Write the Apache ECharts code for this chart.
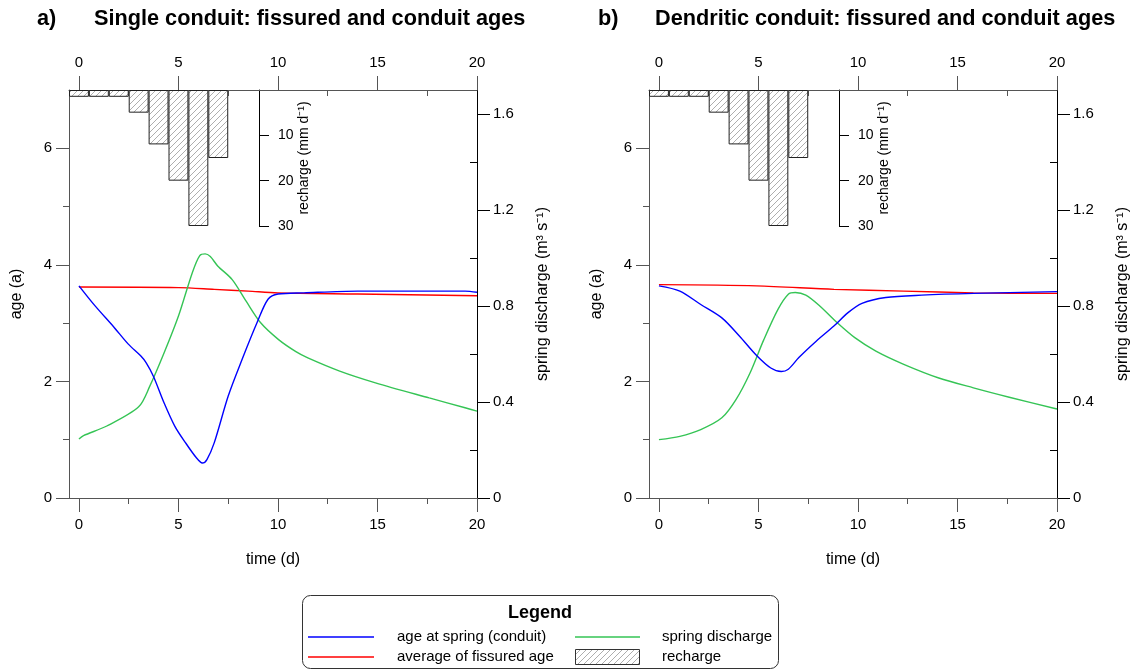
<!DOCTYPE html>
<html>
<head>
<meta charset="utf-8">
<script src="https://cdn.jsdelivr.net/npm/echarts@6/dist/echarts.min.js"></script>
<style>
html, body { margin: 0; padding: 0; background: #fff; }
#main { width: 1137px; height: 670px; }
</style>
</head>
<body>
<div id="main"></div>
<script>
// recharge (mm/d), one bar per day
var rechargeDays = [0, 1, 2, 3, 4, 5, 6, 7];
var recharge = [1.5, 1.5, 1.5, 5, 12, 20, 30, 15];

// a) single conduit
var ageSpringA = [[0,3.64],[0.8,3.3],[1.76,2.93],[2.48,2.64],[3.1,2.44],[3.38,2.32],[3.74,2.09],[4.28,1.63],[4.82,1.23],[5.35,0.95],[5.9,0.69],[6.2,0.6],[6.43,0.66],[6.8,0.95],[7.5,1.75],[8.2,2.38],[8.95,3.01],[9.5,3.41],[10,3.5],[11.3,3.52],[14,3.55],[19.4,3.55],[20,3.53]];
var fissAgeA = [[0,3.62],[5,3.61],[6.8,3.58],[8.5,3.55],[10,3.52],[14,3.5],[20,3.47]];
var dischargeA = [[0,0.246],[0.23,0.26],[1.4,0.3],[3.0,0.38],[3.56,0.466],[4.28,0.605],[5,0.758],[5.7,0.94],[6.07,1.01],[6.34,1.017],[6.6,1.006],[6.97,0.967],[7.7,0.91],[8.4,0.82],[9.13,0.73],[10.03,0.66],[10.9,0.61],[11.5,0.584],[13.1,0.529],[14.9,0.48],[17.6,0.417],[19.4,0.376],[20,0.362]];

// b) dendritic conduit
var ageSpringB = [[0,3.64],[1.05,3.55],[2.1,3.32],[3.16,3.09],[4.04,2.78],[4.92,2.44],[5.62,2.23],[6.15,2.17],[6.5,2.21],[7.03,2.41],[7.9,2.69],[8.79,2.95],[9.5,3.18],[10.2,3.34],[11.4,3.44],[13.2,3.48],[15.8,3.51],[20,3.54]];
var fissAgeB = [[0,3.66],[4.9,3.64],[8.8,3.58],[12.3,3.55],[15.8,3.52],[20,3.51]];
var dischargeB = [[0,0.243],[1.05,0.257],[2.1,0.285],[3.16,0.334],[3.87,0.41],[4.57,0.52],[5.27,0.66],[5.98,0.786],[6.5,0.849],[6.85,0.856],[7.38,0.845],[8.08,0.8],[8.96,0.73],[9.84,0.668],[10.9,0.612],[12.3,0.557],[14.06,0.5],[15.8,0.459],[17.6,0.42],[20,0.371]];

// tick labels
var timeMajor = [0, 5, 10, 15, 20];
var timeMinor = [2.5, 7.5, 12.5, 17.5];
var ageMajor = [0, 2, 4, 6];
var ageMinor = [1, 3, 5];
var qMajor = [0, 0.4, 0.8, 1.2, 1.6];
var qMinor = [0.2, 0.6, 1.0, 1.4];
var rechargeTicks = [10, 20, 30];

var FONT = '"Liberation Sans", Arial, sans-serif';
var BLUE = '#0000ff', RED = '#ff0000', GREEN = '#35c455';

function hatchCanvas() {
    var c = document.createElement('canvas');
    c.width = 6; c.height = 6;
    var g = c.getContext('2d');
    g.fillStyle = '#fff';
    g.fillRect(0, 0, 6, 6);
    g.strokeStyle = '#999';
    g.lineWidth = 0.8;
    g.beginPath();
    g.moveTo(0, 6); g.lineTo(6, 0);
    g.moveTo(-1, 1); g.lineTo(1, -1);
    g.moveTo(5, 7); g.lineTo(7, 5);
    g.stroke();
    return c;
}
var hatch = hatchCanvas();

var grids = [], xAxes = [], yAxes = [], series = [], graphics = [];
var gridW = 408, gridH = 408, gridTop = 90;
var dayPx = gridW / 20.5;
var lbl = { color: '#000', fontSize: 15, fontFamily: FONT };
var nameStyle = { color: '#000', fontSize: 16, fontFamily: FONT };

function addPanel(dx, ageSpring, fissAge, discharge) {
    var g = grids.length;
    grids.push({ left: 69 + dx, top: gridTop, width: gridW, height: gridH });
    grids.push({ left: 249 + dx, top: gridTop, width: 10, height: 136 });
    var xb = xAxes.length, yb = yAxes.length;
    var grey = { onZero: false, lineStyle: { color: '#555', width: 1 } };
    var xBase = { type: 'value', gridIndex: g, min: -0.5, max: 20, splitLine: { show: false } };
    xAxes.push(Object.assign({}, xBase, {
        position: 'bottom', axisLine: grey,
        axisTick: { length: 14, customValues: timeMajor, lineStyle: { color: '#555' } },
        axisLabel: Object.assign({ customValues: timeMajor, margin: 19 }, lbl),
        name: 'time (d)', nameLocation: 'middle', nameGap: 54, nameTextStyle: nameStyle
    }));
    xAxes.push(Object.assign({}, xBase, {
        position: 'bottom', axisLine: { show: false, onZero: false },
        axisTick: { length: 6, customValues: timeMinor, lineStyle: { color: '#555' } },
        axisLabel: { show: false }
    }));
    xAxes.push(Object.assign({}, xBase, {
        position: 'top', axisLine: grey,
        axisTick: { length: 14, customValues: timeMajor, lineStyle: { color: '#555' } },
        axisLabel: Object.assign({ customValues: timeMajor, margin: 20 }, lbl)
    }));
    xAxes.push(Object.assign({}, xBase, {
        position: 'top', axisLine: { show: false, onZero: false },
        axisTick: { inside: true, length: 6, customValues: timeMinor, lineStyle: { color: '#555' } },
        axisLabel: { show: false }
    }));
    xAxes.push({ type: 'value', gridIndex: g + 1, min: 0, max: 1, show: false });

    var yBase = { type: 'value', gridIndex: g, splitLine: { show: false } };
    yAxes.push(Object.assign({}, yBase, {
        position: 'left', min: 0, max: 7, axisLine: { show: true, onZero: false, lineStyle: { color: '#555' } },
        axisTick: { length: 13, customValues: ageMajor, lineStyle: { color: '#555' } },
        axisLabel: Object.assign({ customValues: ageMajor, margin: 17 }, lbl),
        name: 'age (a)', nameLocation: 'middle', nameGap: 44, nameRotate: 90, nameTextStyle: nameStyle
    }));
    yAxes.push(Object.assign({}, yBase, {
        position: 'left', min: 0, max: 7, axisLine: { show: false, onZero: false },
        axisTick: { length: 6, customValues: ageMinor, lineStyle: { color: '#555' } },
        axisLabel: { show: false }
    }));
    yAxes.push(Object.assign({}, yBase, {
        position: 'right', min: 0, max: 1.7, axisLine: { show: true, onZero: false, lineStyle: { color: '#000' } },
        axisTick: { length: 13, customValues: qMajor, lineStyle: { color: '#000' } },
        axisLabel: Object.assign({ customValues: qMajor, margin: 16 }, lbl),
        name: 'spring discharge (m³ s⁻¹)', nameLocation: 'middle', nameGap: 58, nameRotate: 90, nameTextStyle: nameStyle
    }));
    yAxes.push(Object.assign({}, yBase, {
        position: 'right', min: 0, max: 1.7, axisLine: { show: false, onZero: false },
        axisTick: { inside: true, length: 7, customValues: qMinor, lineStyle: { color: '#000' } },
        axisLabel: { show: false }
    }));
    yAxes.push(Object.assign({}, yBase, { show: false, min: 0, max: 90, inverse: true }));
    yAxes.push({
        type: 'value', gridIndex: g + 1, position: 'right', min: 0, max: 30, inverse: true,
        splitLine: { show: false },
        axisLine: { show: true, onZero: false, lineStyle: { color: '#000' } },
        axisTick: { length: 10, customValues: rechargeTicks, lineStyle: { color: '#000' } },
        axisLabel: { customValues: rechargeTicks, margin: 19, color: '#000', fontSize: 14, fontFamily: FONT },
        name: 'recharge (mm d⁻¹)', nameLocation: 'middle', nameGap: 38, nameRotate: 90,
        nameTextStyle: { color: '#000', fontSize: 14, fontFamily: FONT }
    });

    series.push({
        name: 'recharge', type: 'bar', xAxisIndex: xb, yAxisIndex: yb + 4,
        barWidth: dayPx, z: 1,
        itemStyle: { color: { image: hatch, repeat: 'repeat' }, borderColor: '#222', borderWidth: 1 },
        data: rechargeDays.map(function (d, i) { return [d, recharge[i]]; })
    });
    var line = function (name, data, yi, color, z) {
        return {
            name: name, type: 'line', xAxisIndex: xb, yAxisIndex: yb + yi, data: data,
            showSymbol: false, symbol: 'none', smooth: 0.3, z: z,
            lineStyle: { color: color, width: 1.4 }
        };
    };
    series.push(line('average of fissured age', fissAge, 0, RED, 3));
    series.push(line('spring discharge', discharge, 2, GREEN, 3));
    series.push(line('age at spring (conduit)', ageSpring, 0, BLUE, 4));
}

addPanel(0, ageSpringA, fissAgeA, dischargeA);
addPanel(580, ageSpringB, fissAgeB, dischargeB);

var titleFont = 'bold 21.7px ' + FONT;
function txt(x, y, s, font, align) {
    return { type: 'text', x: x, y: y, style: { text: s, font: font, fill: '#000', align: align || 'left', verticalAlign: 'middle' } };
}
graphics.push(txt(37, 19, 'a)', titleFont));
graphics.push(txt(94, 19, 'Single conduit: fissured and conduit ages', titleFont));
graphics.push(txt(598, 19, 'b)', titleFont));
graphics.push(txt(655, 19, 'Dendritic conduit: fissured and conduit ages', titleFont));

// legend box
var legFont = '15px ' + FONT;
graphics.push({ type: 'rect', shape: { x: 302.5, y: 595.5, width: 476, height: 73, r: 8 }, style: { fill: '#fff', stroke: '#333', lineWidth: 1 } });
graphics.push(txt(540, 613, 'Legend', 'bold 18px ' + FONT, 'center'));
graphics.push({ type: 'line', shape: { x1: 308, y1: 637, x2: 374, y2: 637 }, style: { stroke: BLUE, lineWidth: 1.4 } });
graphics.push({ type: 'line', shape: { x1: 308, y1: 657, x2: 374, y2: 657 }, style: { stroke: RED, lineWidth: 1.4 } });
graphics.push({ type: 'line', shape: { x1: 575, y1: 637, x2: 640, y2: 637 }, style: { stroke: GREEN, lineWidth: 1.4 } });
graphics.push({ type: 'rect', shape: { x: 575.5, y: 649.5, width: 64, height: 15 }, style: { fill: { image: hatch, repeat: 'repeat' }, stroke: '#333', lineWidth: 1 } });
graphics.push(txt(397, 637, 'age at spring (conduit)', legFont));
graphics.push(txt(397, 657, 'average of fissured age', legFont));
graphics.push(txt(662, 637, 'spring discharge', legFont));
graphics.push(txt(662, 657, 'recharge', legFont));

var myChart = echarts.init(document.getElementById('main'));
var option = {
    animation: false,
    backgroundColor: '#fff',
    textStyle: { fontFamily: FONT },
    grid: grids,
    xAxis: xAxes,
    yAxis: yAxes,
    series: series,
    graphic: graphics
};
myChart.setOption(option);
window.onresize = function () {
    myChart.resize();
};
</script>
</body>
</html>
